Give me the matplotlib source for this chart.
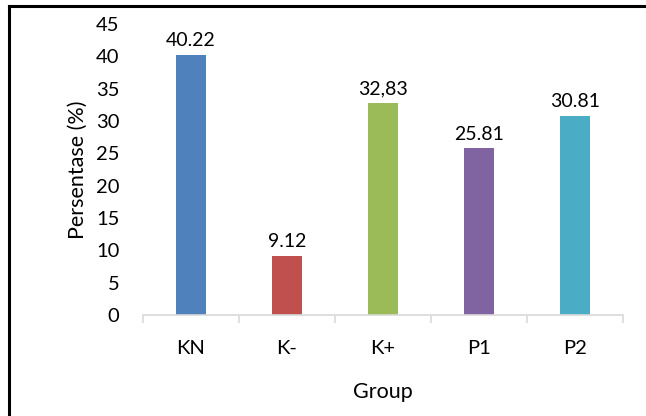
import matplotlib.pyplot as plt
from matplotlib.lines import Line2D

# Data
groups = ["KN", "K-", "K+", "P1", "P2"]
values = [40.22, 9.12, 32.83, 25.81, 30.81]
value_labels = ["40.22", "9.12", "32,83", "25.81", "30.81"]
colors = ["#4F81BD", "#C0504D", "#9BBB59", "#8064A2", "#4BACC6"]

plt.rcParams['font.family'] = ['Lato', 'DejaVu Sans']

fig = plt.figure(figsize=(6.46, 4.16), dpi=100)
ax = fig.add_axes([143 / 646, 1 - 315 / 416, 480 / 646, 291 / 416])

x = range(len(groups))
bars = ax.bar(x, values, width=0.32, color=colors)

for b, lab in zip(bars, value_labels):
    ax.annotate(lab, (b.get_x() + b.get_width() / 2, b.get_height()),
                xytext=(0, 4), textcoords="offset points",
                ha="center", va="bottom", fontsize=14)

ax.set_xlim(-0.5, len(groups) - 0.5)
ax.set_ylim(0, 45)
ax.set_yticks(range(0, 46, 5))
ax.set_xticks(list(x))
ax.set_xticklabels(groups)
ax.set_xticks([i - 0.5 for i in range(len(groups) + 1)], minor=True)

for s in ["top", "right", "left"]:
    ax.spines[s].set_visible(False)
ax.spines["bottom"].set_color("#d9d9d9")
ax.spines["bottom"].set_linewidth(1.2)

ax.tick_params(axis="y", length=0, labelsize=14.5, pad=17)
ax.tick_params(axis="x", which="major", length=0, labelsize=14.5, pad=18)
ax.tick_params(axis="x", which="minor", length=6, width=1.2, color="#d9d9d9")

ax.set_ylabel("Persentase (%)", fontsize=15.5, labelpad=6)
ax.set_xlabel("Group", fontsize=15.5, labelpad=18)

# outer frame (left and top only are visible)
fig.add_artist(Line2D([9 / 646, 9 / 646], [0, 1 - 6 / 416], transform=fig.transFigure,
                      color="black", linewidth=2.2))
fig.add_artist(Line2D([9 / 646, 1], [1 - 6 / 416, 1 - 6 / 416], transform=fig.transFigure,
                      color="black", linewidth=2.2))

fig.savefig("out.png", dpi=100)
